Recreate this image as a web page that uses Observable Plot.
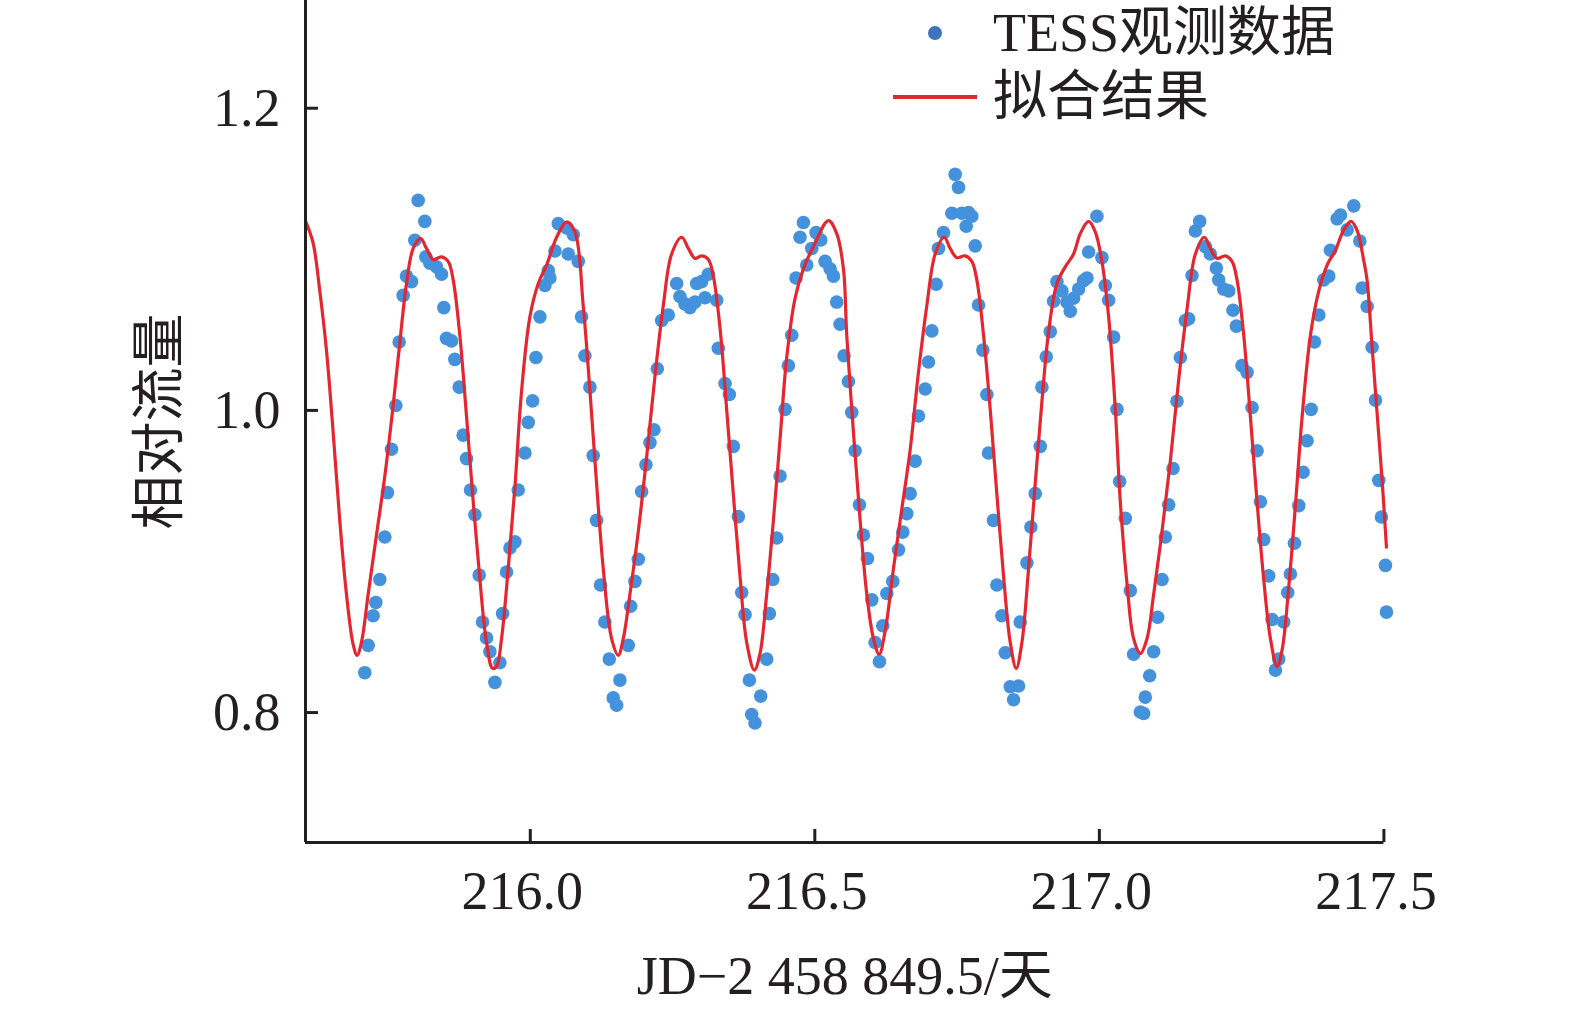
<!DOCTYPE html>
<html><head><meta charset="utf-8">
<script src="https://cdn.jsdelivr.net/npm/d3@7"></script>
<script src="https://cdn.jsdelivr.net/npm/@observablehq/plot@0.6"></script>
<style>
html,body{margin:0;padding:0;background:#fff;}
#wrap{position:relative;width:1575px;height:1012px;overflow:hidden;background:#fff;}
#legend{position:absolute;left:880px;top:1px;font-family:'Liberation Serif','Times New Roman','Noto Sans CJK SC',serif;font-size:54px;color:#231f20;}
.row{display:flex;align-items:center;height:64px;line-height:64px;white-space:nowrap;}
.sw{position:relative;width:113px;height:64px;}
.dotsw{position:absolute;left:48px;top:25px;width:14px;height:14px;border-radius:50%;background:#3d74bd;}
.linesw{position:absolute;left:13px;top:30px;width:84px;height:4px;background:#dc2a31;}
</style></head><body>
<div id="wrap"></div>
<script>
// Observed TESS photometry (time, relative flux)
const dotTime = [
215.7092,215.7151,215.7239,215.7285,215.7356,215.7444,215.7490,215.7561,215.7637,215.7696,
215.7766,215.7825,215.7913,215.7971,215.8030,215.8147,215.8165,215.8235,215.8352,215.8440,
215.8481,215.8528,215.8616,215.8674,215.8751,215.8821,215.8880,215.8950,215.9026,215.9102,
215.9161,215.9231,215.9290,215.9378,215.9466,215.9513,215.9583,215.9642,215.9730,215.9788,
215.9906,215.9964,216.0040,216.0099,216.0169,216.0257,216.0316,216.0345,216.0433,216.0492,
216.0639,216.0668,216.0756,
216.0843,216.0901,216.0960,216.1048,216.1106,216.1165,216.1235,216.1311,216.1388,216.1458,
216.1517,216.1575,216.1722,216.1763,216.1839,216.1898,216.1956,216.2032,216.2103,216.2173,
216.2232,216.2308,216.2425,216.2572,216.2630,216.2718,216.2806,216.2894,216.2923,216.3011,
216.3070,216.3129,216.3275,216.3304,216.3422,216.3498,216.3568,216.3656,216.3715,216.3774,
216.3850,216.3891,216.3949,216.4049,216.4154,216.4201,216.4260,216.4330,216.4389,216.4477,
216.4535,216.4594,216.4670,216.4740,216.4799,216.4858,216.4946,216.5022,216.5104,216.5180,
216.5268,216.5327,216.5385,216.5444,216.5514,216.5590,
216.5649,216.5708,216.5784,216.5854,216.5925,216.6001,216.6059,216.6136,216.6194,216.6265,
216.6370,216.6470,216.6546,216.6616,216.6675,216.6763,216.6821,216.6939,216.6997,216.7056,
216.7132,216.7173,216.7261,216.7408,216.7466,216.7525,216.7584,216.7660,216.7701,216.7759,
216.7818,216.7877,216.7953,216.8023,216.8052,216.8140,216.8199,216.8287,216.8346,216.8433,
216.8492,216.8580,216.8609,216.8727,216.8797,216.8873,216.8961,216.8990,216.9067,216.9137,
216.9196,216.9254,216.9342,216.9430,216.9489,216.9547,216.9635,216.9723,216.9782,216.9811,
216.9957,217.0045,217.0104,217.0163,217.0251,217.0309,217.0356,
217.0456,217.0544,217.0602,217.0720,217.0778,217.0807,217.0884,217.0954,217.1024,217.1101,
217.1159,217.1218,217.1294,217.1364,217.1423,217.1511,217.1569,217.1628,217.1687,217.1763,
217.1863,217.1950,217.2056,217.2097,217.2185,217.2273,217.2349,217.2408,217.2507,217.2595,
217.2683,217.2771,217.2830,217.2888,217.2976,217.3035,217.3094,217.3152,217.3240,217.3310,
217.3357,217.3428,217.3504,217.3580,217.3650,217.3721,217.3779,217.3856,217.3943,217.4031,
217.4061,217.4178,217.4237,217.4354,217.4471,217.4577,217.4618,217.4706,217.4793,217.4852,
217.4910,217.4957,217.5027,217.5045
];
const dotFlux = [
0.8264,0.8445,0.8641,0.8729,0.8881,0.9162,0.9456,0.9743,1.0032,1.0453,
1.0761,1.0889,1.0852,1.1126,1.1390,1.1251,1.1016,1.0974,1.0950,1.0901,
1.0680,1.0477,1.0460,1.0338,1.0154,0.9836,0.9681,0.9473,0.9309,0.8910,
0.8599,0.8494,0.8403,0.8200,0.8330,0.8655,0.8930,0.9089,0.9130,0.9473,
0.9718,0.9921,1.0063,1.0350,1.0619,1.0827,1.0925,1.0876,1.1055,1.1236,
1.1207,1.1035,1.1163,
1.0986,1.0619,1.0362,1.0154,0.9701,0.9272,0.8844,0.8599,0.8354,0.8097,
0.8048,0.8215,0.8445,0.8704,0.8868,0.9015,0.9463,0.9640,0.9787,0.9872,
1.0276,1.0595,1.0631,1.0840,1.0754,1.0705,1.0680,1.0717,1.0840,1.0852,
1.0746,1.0901,1.0729,1.0411,1.0178,1.0105,0.9762,0.9297,0.8795,0.8648,
0.8215,0.7987,0.7931,0.8109,0.8354,0.8655,0.8881,0.9155,0.9566,1.0007,
1.0296,1.0497,1.0876,1.1146,1.1244,1.0962,1.1072,1.1177,1.1128,1.0986,
1.0937,1.0889,1.0717,1.0570,1.0362,1.0191,
0.9987,0.9733,0.9375,0.9175,0.9020,0.8746,0.8464,0.8337,0.8575,0.8788,
0.8868,0.9077,0.9194,0.9317,0.9449,0.9664,0.9963,1.0142,1.0320,1.0526,
1.0835,1.1072,1.1177,1.1305,1.1562,1.1476,1.1305,1.1219,1.1310,1.1285,
1.1089,1.0698,1.0399,1.0105,0.9718,0.9272,0.8844,0.8641,0.8396,0.8171,
0.8085,0.8176,0.8599,0.8991,0.9228,0.9449,0.9762,1.0154,1.0355,1.0521,
1.0722,1.0852,1.0791,1.0717,1.0656,1.0742,1.0803,1.0859,1.0876,1.1048,
1.1285,1.1011,1.0827,1.0729,1.0485,1.0007,0.9529,
0.9285,0.8807,0.8386,0.8004,0.7994,0.8102,0.8244,0.8403,0.8631,0.8881,
0.9162,0.9375,0.9615,1.0061,1.0350,1.0595,1.0607,1.0893,1.1187,1.1251,
1.1084,1.1035,1.0942,1.0864,1.0803,1.0791,1.0663,1.0558,1.0296,1.0252,
1.0019,0.9733,0.9395,0.9145,0.8905,0.8616,0.8281,0.8354,0.8599,0.8795,
0.8917,0.9121,0.9370,0.9591,0.9799,1.0007,1.0453,1.0631,1.0864,1.0889,
1.1060,1.1268,1.1293,1.1195,1.1354,1.1121,1.0810,1.0688,1.0418,1.0068,
0.9537,0.9294,0.8974,0.8665
];
// Fitted model curve (time, relative flux)
const fitTime = [
215.6050,215.6183,215.6301,215.6418,215.6535,215.6652,215.6770,215.6887,215.6957,215.7033,
215.7151,215.7297,215.7444,215.7590,215.7707,215.7825,215.7942,215.8071,215.8176,215.8293,
215.8440,215.8557,215.8645,215.8762,215.8880,215.8997,215.9114,215.9231,215.9337,215.9407,
215.9495,215.9612,215.9730,215.9847,215.9993,216.0140,216.0287,216.0463,216.0639,216.0785,
216.0930,216.1048,216.1165,216.1282,216.1429,216.1546,216.1634,216.1751,216.1898,216.2044,
216.2191,216.2337,216.2484,216.2660,216.2777,216.2894,216.3011,216.3129,216.3217,216.3334,
216.3451,216.3568,216.3685,216.3803,216.3938,216.4037,216.4154,216.4272,216.4389,216.4506,
216.4653,216.4799,216.4975,216.5239,216.5385,216.5503,
216.5561,216.5678,216.5796,216.5913,216.6030,216.6130,216.6235,216.6382,216.6528,216.6675,
216.6821,216.6968,216.7115,216.7273,216.7378,216.7496,216.7642,216.7759,216.7847,216.7965,
216.8082,216.8199,216.8316,216.8434,216.8539,216.8639,216.8756,216.8873,216.8990,216.9108,
216.9254,216.9401,216.9547,216.9664,216.9811,216.9928,217.0045,217.0163,217.0280,
217.0368,217.0485,217.0602,217.0720,217.0837,217.0954,217.1101,217.1247,217.1394,217.1540,
217.1687,217.1845,217.1950,217.2068,217.2214,217.2331,217.2419,217.2537,217.2654,217.2771,
217.2888,217.3006,217.3123,217.3211,217.3328,217.3445,217.3563,217.3709,217.3856,217.4002,
217.4149,217.4295,217.4424,217.4530,217.4647,217.4705,217.4793,217.4881,217.4969,217.5045
];
const fitFlux = [
1.1255,1.1109,1.0791,1.0399,0.9860,0.9272,0.8783,0.8452,0.8379,0.8464,
0.8783,0.9175,0.9566,1.0032,1.0448,1.0840,1.1072,1.1138,1.1072,1.0999,
1.1016,1.0986,1.0864,1.0497,0.9958,0.9395,0.8881,0.8464,0.8293,0.8305,
0.8489,0.8954,0.9493,1.0129,1.0619,1.0840,1.0962,1.1146,1.1248,1.1182,
1.0693,1.0129,0.9517,0.8954,0.8489,0.8379,0.8489,0.8783,0.9199,0.9689,
1.0227,1.0693,1.1035,1.1146,1.1072,1.1006,1.1023,1.0999,1.0888,1.0546,
1.0007,0.9444,0.8905,0.8464,0.8281,0.8391,0.8783,0.9272,0.9811,1.0350,
1.0742,1.0937,1.1084,1.1256,1.1170,1.0937,
1.0497,0.9860,0.9272,0.8783,0.8489,0.8386,0.8538,0.8954,0.9346,0.9738,
1.0252,1.0693,1.1035,1.1146,1.1072,1.1011,1.1023,1.0986,1.0864,1.0497,
1.0007,0.9444,0.8905,0.8464,0.8293,0.8464,0.8954,0.9517,1.0056,1.0521,
1.0840,1.0950,1.1035,1.1170,1.1251,1.1182,1.0986,1.0619,1.0007,
0.9395,0.8856,0.8489,0.8391,0.8489,0.8783,0.9199,0.9664,1.0203,1.0668,
1.1035,1.1146,1.1072,1.1006,1.1023,1.0986,1.0864,1.0497,0.9958,0.9395,
0.8881,0.8489,0.8305,0.8415,0.8832,0.9370,0.9958,1.0497,1.0791,1.0962,
1.1060,1.1195,1.1251,1.1190,1.0990,1.0860,1.0419,0.9978,0.9537,0.9095
];
const xTicks = [216.0, 216.5, 217.0, 217.5];
const yTicks = [0.8, 1.0, 1.2];
const xDomain = [215.605, 217.5];
const yDomain = [0.714, 1.2713];
const xLabel = "JD\u22122 458 849.5/天";
const yLabel = "相对流量";
const legendLabels = ["TESS观测数据", "拟合结果"];

const observed = dotTime.map((t, i) => ({t, f: dotFlux[i]}));
const fit = fitTime.map((t, i) => ({t, f: fitFlux[i]}));

const ink = "#231f20";
const font = "'Liberation Serif','Times New Roman','Noto Sans CJK SC',serif";

const chart = Plot.plot({
  width: 1575,
  height: 1012,
  marginLeft: 305,
  marginRight: 191.6,
  marginTop: 0,
  marginBottom: 170,
  style: {fontFamily: font, fontSize: "54px", color: ink, background: "#fff", overflow: "visible"},
  x: {domain: xDomain},
  y: {domain: yDomain},
  marks: [
    Plot.dot(observed, {x: "t", y: "f", r: 6.8, fill: "#4592dc", stroke: "none"}),
    Plot.line(fit, {x: "t", y: "f", stroke: "#e5262f", strokeWidth: 3.2, curve: "catmull-rom"}),
    Plot.ruleX([xDomain[0]], {stroke: ink, strokeWidth: 3}),
    Plot.ruleY([yDomain[0]], {stroke: ink, strokeWidth: 3}),
    Plot.ruleX(xTicks, {stroke: ink, strokeWidth: 3, insetTop: 829}),
    Plot.ruleY(yTicks, {stroke: ink, strokeWidth: 3, insetRight: 1065.4}),
    Plot.axisX({ticks: xTicks, tickFormat: d3.format(".1f"), tickSize: 0, tickPadding: 28, dx: -8, fontSize: 54, label: null}),
    Plot.axisY({ticks: yTicks, tickFormat: d3.format(".1f"), tickSize: 0, tickPadding: 25, fontSize: 54, label: null}),
    Plot.text([xLabel], {text: d => d, frameAnchor: "bottom", dy: 134, fontSize: 54, lineAnchor: "middle", textAnchor: "middle", fill: ink}),
    Plot.text([yLabel], {text: d => d, frameAnchor: "left", dx: -145, rotate: -90, fontSize: 54, textAnchor: "middle", lineAnchor: "middle", fill: ink})
  ]
});

const wrap = document.getElementById("wrap");
wrap.appendChild(chart);

// Legend (HTML overlay)
const legend = document.createElement("div");
legend.id = "legend";
const r1 = document.createElement("div"); r1.className = "row";
r1.innerHTML = '<div class="sw"><div class="dotsw"></div></div><span></span>';
r1.querySelector("span").textContent = legendLabels[0];
const r2 = document.createElement("div"); r2.className = "row";
r2.innerHTML = '<div class="sw"><div class="linesw"></div></div><span></span>';
r2.querySelector("span").textContent = legendLabels[1];
legend.appendChild(r1); legend.appendChild(r2);
wrap.appendChild(legend);
</script>
</body></html>
